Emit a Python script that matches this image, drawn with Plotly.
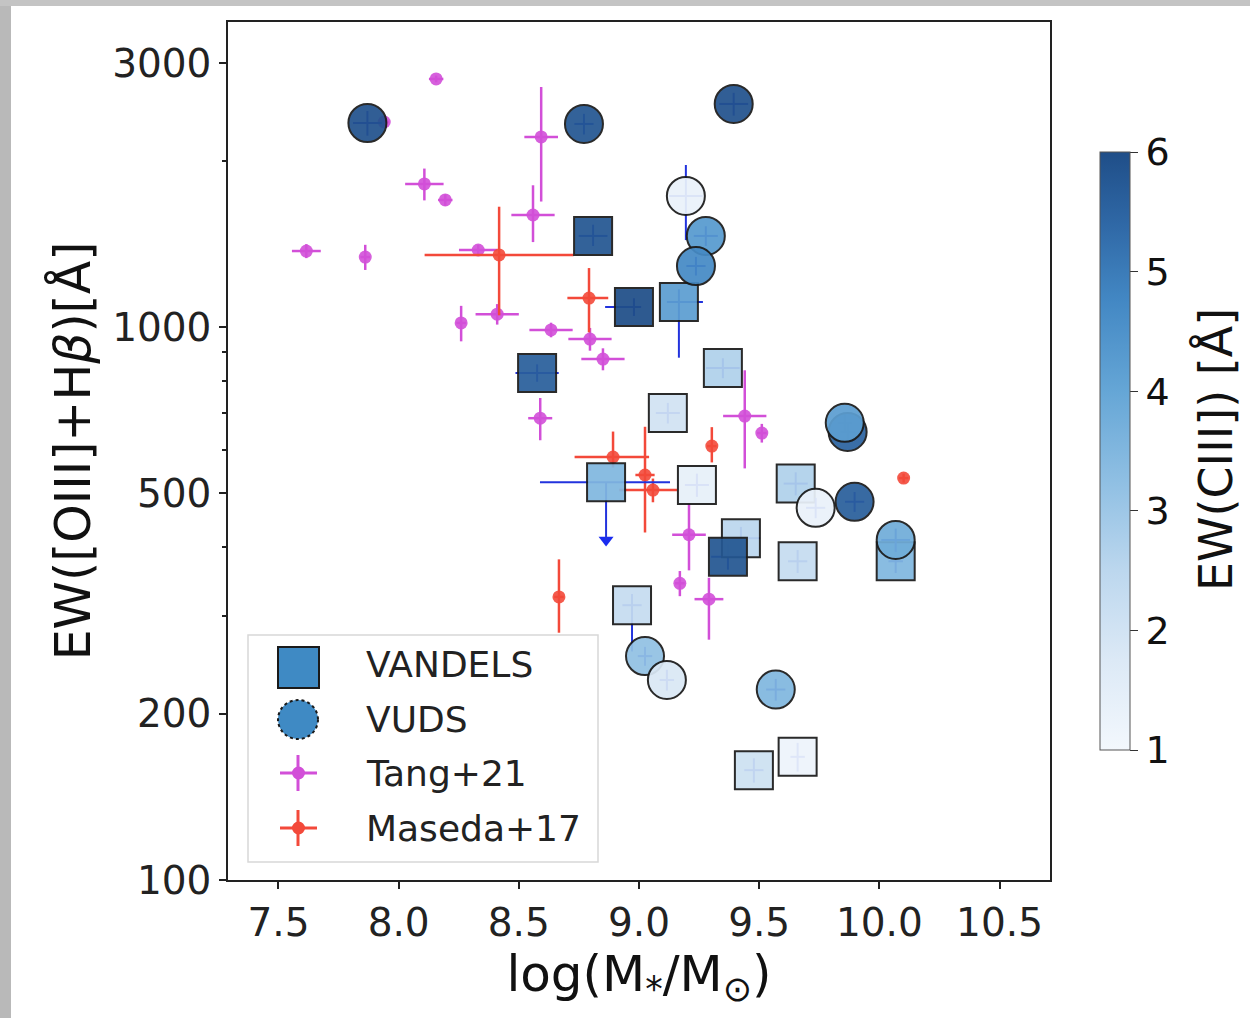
import plotly.graph_objects as go

# ---- VANDELS (squares) ----
van_mass = [8.809, 8.979, 9.166, 8.576, 9.349, 9.120, 8.863, 9.241, 9.652, 9.424, 9.370, 9.660, 10.068, 8.971, 9.478, 9.660]
van_ew = [1461, 1087, 1110, 826, 843, 699, 524, 518, 521, 415, 384, 377, 377, 314, 158, 167]
van_ciii = [5.8, 6.0, 4.2, 5.6, 2.7, 2.0, 3.5, 1.4, 2.7, 2.5, 5.8, 2.3, 3.5, 2.3, 2.1, 1.2]
van_xerr_lo = [0.06, 0.12, 0.05, 0.09, 0.07, 0.05, 0.275, 0.05, 0.05, 0.04, 0.07, 0.04, 0.03, 0.04, 0.04, 0.03]
van_xerr_hi = [0.06, 0.03, 0.10, 0.09, 0.07, 0.05, 0.266, 0.05, 0.05, 0.08, 0.07, 0.04, 0.03, 0.04, 0.04, 0.03]
van_yerr_lo = [60, 40, 230, 30, 35, 30, 112, 25, 25, 20, 20, 18, 18, 55, 8, 10]
van_yerr_hi = [70, 40, 60, 30, 35, 30, 0, 25, 25, 20, 20, 18, 18, 15, 8, 10]
# upper limit on one VANDELS object
lim_mass = [8.863]
lim_ew = [412]

# ---- VUDS (circles) ----
vuds_mass = [7.870, 8.771, 9.394, 9.195, 9.278, 9.237, 9.868, 9.856, 9.735, 9.897, 10.068, 9.025, 9.116, 9.569]
vuds_ew = [2338, 2329, 2531, 1726, 1461, 1289, 646, 671, 471, 483, 412, 254, 230, 221]
vuds_ciii = [5.9, 5.8, 5.9, 1.3, 4.3, 4.7, 5.5, 4.2, 1.3, 5.6, 3.8, 3.2, 1.8, 3.5]
vuds_xerr = [0.06, 0.04, 0.06, 0.07, 0.05, 0.04, 0.03, 0.03, 0.04, 0.04, 0.06, 0.03, 0.03, 0.04]
vuds_yerr_hi = [120, 100, 120, 237, 60, 50, 25, 25, 20, 20, 20, 10, 10, 10]
vuds_yerr_lo = [120, 100, 120, 290, 60, 50, 25, 25, 20, 20, 20, 10, 10, 10]

# ---- Tang+21 ----
tang_mass = [8.156, 7.940, 8.593, 8.107, 8.194, 8.559, 7.616, 7.861, 8.331, 8.260, 8.410, 8.634, 8.796, 8.850, 8.589, 9.440, 9.511, 9.208, 9.170, 9.291]
tang_ew = [2809, 2348, 2206, 1814, 1697, 1594, 1372, 1338, 1378, 1017, 1055, 988, 951, 875, 684, 690, 643, 421, 344, 322]
tang_xerr = [0.03, 0.02, 0.07, 0.08, 0.03, 0.09, 0.06, 0.02, 0.08, 0.02, 0.09, 0.09, 0.09, 0.09, 0.05, 0.09, 0.02, 0.07, 0.02, 0.06]
tang_yerr_hi = [40, 40, 510, 120, 40, 210, 40, 70, 30, 75, 45, 30, 45, 40, 60, 145, 25, 58, 18, 30]
tang_yerr_lo = [40, 40, 520, 120, 40, 170, 40, 70, 30, 75, 45, 30, 45, 40, 60, 135, 25, 58, 18, 50]

# ---- Maseda+17 ----
mas_mass = [8.418, 8.792, 8.892, 9.025, 9.058, 9.303, 10.101, 8.667]
mas_ew = [1350, 1128, 582, 540, 507, 609, 533, 325]
mas_xerr_lo = [0.31, 0.09, 0.16, 0.04, 0.14, 0.02, 0.02, 0.02]
mas_xerr_hi = [0.31, 0.08, 0.15, 0.04, 0.10, 0.02, 0.02, 0.02]
mas_yerr_hi = [300, 150, 65, 120, 25, 50, 10, 55]
mas_yerr_lo = [300, 150, 25, 115, 25, 40, 10, 45]

# tick labels
x_ticks = [7.5, 8.0, 8.5, 9.0, 9.5, 10.0, 10.5]
y_ticks = [100, 200, 500, 1000, 3000]
y_minor = [300, 400, 600, 700, 800, 900, 2000]
cb_ticks = [1, 2, 3, 4, 5, 6]

# Blues-like scale
blues = [
    [0.0, "#f3f8fd"], [0.15, "#dce9f6"], [0.3, "#bcd7ee"], [0.45, "#8fbfe3"],
    [0.6, "#65a6d6"], [0.75, "#4388c4"], [0.88, "#2f68a6"], [1.0, "#1f4e88"],
]

TANG_C = "#d24fd8"
MAS_C = "#f3493a"
EDGE = "#1a1a1a"
FONT = "DejaVu Sans"

fig = go.Figure()

fig.add_trace(go.Scatter(
    x=tang_mass, y=tang_ew, mode="markers", name="Tang+21", showlegend=False,
    marker=dict(size=13, color=TANG_C, opacity=0.9, line=dict(width=0)),
    error_x=dict(type="data", array=tang_xerr, color=TANG_C, thickness=2.5, width=0),
    error_y=dict(type="data", array=tang_yerr_hi, arrayminus=tang_yerr_lo, color=TANG_C, thickness=2.5, width=0),
))

fig.add_trace(go.Scatter(
    x=mas_mass, y=mas_ew, mode="markers", name="Maseda+17", showlegend=False,
    marker=dict(size=13, color=MAS_C, opacity=0.9, line=dict(width=0)),
    error_x=dict(type="data", array=mas_xerr_hi, arrayminus=mas_xerr_lo, color=MAS_C, thickness=2.5, width=0),
    error_y=dict(type="data", array=mas_yerr_hi, arrayminus=mas_yerr_lo, color=MAS_C, thickness=2.5, width=0),
))

fig.add_trace(go.Scatter(
    x=lim_mass, y=lim_ew, mode="markers", showlegend=False, hoverinfo="skip",
    marker=dict(symbol="triangle-down", size=13, color="#1a2cf0", line=dict(width=0)),
))

fig.add_trace(go.Scatter(
    x=van_mass, y=van_ew, mode="markers", name="VANDELS", showlegend=False,
    marker=dict(symbol="square", size=38, color=van_ciii, colorscale=blues, cmin=1, cmax=6,
                line=dict(color=EDGE, width=2), opacity=0.93,
                colorbar=dict(
                    x=(1100 - 228) / 822, xanchor="left", y=0.5, yanchor="middle",
                    len=(750 - 152) / 858, lenmode="fraction", thickness=30,
                    xpad=0, ypad=0,
                    outlinecolor="#555555", outlinewidth=1,
                    tickvals=cb_ticks, ticks="outside", ticklen=8, tickcolor="#333",
                    tickfont=dict(size=38, family=FONT, color="#111"),
                )),
    error_x=dict(type="data", array=van_xerr_hi, arrayminus=van_xerr_lo, color="#2233dd", thickness=2, width=0),
    error_y=dict(type="data", array=van_yerr_hi, arrayminus=van_yerr_lo, color="#2233dd", thickness=2, width=0),
))

fig.add_trace(go.Scatter(
    x=vuds_mass, y=vuds_ew, mode="markers", name="VUDS", showlegend=False,
    marker=dict(symbol="circle", size=38, color=vuds_ciii, colorscale=blues, cmin=1, cmax=6,
                line=dict(color=EDGE, width=2), opacity=0.93, showscale=False),
    error_x=dict(type="data", array=vuds_xerr, color="#2233dd", thickness=2, width=0),
    error_y=dict(type="data", array=vuds_yerr_hi, arrayminus=vuds_yerr_lo, color="#2233dd", thickness=2, width=0),
))


# pixel -> paper helpers for the legend box and colorbar title
def px(x):
    return (x - 228) / 822


def py(y):
    return (880 - y) / 858


shapes = []
annotations = []
# legend frame
shapes.append(dict(type="rect", xref="paper", yref="paper", x0=px(248), x1=px(598), y0=py(862), y1=py(635),
                   line=dict(color="#d8d8d8", width=1.5), fillcolor="rgba(255,255,255,0.85)", layer="above"))
# VANDELS key
shapes.append(dict(type="rect", xref="paper", yref="paper", x0=px(278), x1=px(319), y0=py(688), y1=py(647),
                   line=dict(color=EDGE, width=2), fillcolor="#3f8ac4", layer="above"))
# VUDS key
shapes.append(dict(type="circle", xref="paper", yref="paper", x0=px(278), x1=px(318), y0=py(739), y1=py(700),
                   line=dict(color=EDGE, width=2, dash="dot"), fillcolor="#3f8ac4", layer="above"))
# Tang+21 and Maseda+17 keys
for cy, col in [(773, TANG_C), (828, MAS_C)]:
    shapes.append(dict(type="line", xref="paper", yref="paper", x0=px(280), x1=px(317), y0=py(cy), y1=py(cy),
                       line=dict(color=col, width=3), layer="above"))
    shapes.append(dict(type="line", xref="paper", yref="paper", x0=px(298), x1=px(298), y0=py(cy - 18), y1=py(cy + 18),
                       line=dict(color=col, width=3), layer="above"))
    shapes.append(dict(type="circle", xref="paper", yref="paper", x0=px(292), x1=px(305), y0=py(cy + 6.5), y1=py(cy - 6.5),
                       line=dict(color=col, width=0), fillcolor=col, layer="above"))
for cy, txt in [(664, "VANDELS"), (719, "VUDS"), (773, "Tang+21"), (828, "Maseda+17")]:
    annotations.append(dict(xref="paper", yref="paper", x=px(364), y=py(cy), text=txt, showarrow=False,
                            xanchor="left", yanchor="middle",
                            font=dict(size=36, family=FONT, color="#222")))

# colorbar title
annotations.append(dict(xref="paper", yref="paper", x=px(1216), y=py(450), text="EW(CIII]) [Å]",
                        showarrow=False, textangle=-90, xanchor="center", yanchor="middle",
                        font=dict(size=46, family=FONT, color="#111")))

# grey frame along the left and top edges
shapes.append(dict(type="rect", xref="paper", yref="paper", x0=px(0), x1=px(11), y0=py(1018), y1=py(0),
                   line=dict(width=0), fillcolor="#b9b9b9", layer="below"))
shapes.append(dict(type="rect", xref="paper", yref="paper", x0=px(0), x1=px(1250), y0=py(6), y1=py(0),
                   line=dict(width=0), fillcolor="#c4c4c4", layer="below"))

axis_font = dict(size=39, family=FONT, color="#222")

fig.update_layout(
    width=1250, height=1018,
    margin=dict(l=228, r=200, t=22, b=138),
    paper_bgcolor="white", plot_bgcolor="white",
    showlegend=False,
    shapes=shapes, annotations=annotations,
    xaxis=dict(
        range=[7.29, 10.71], tickvals=x_ticks, ticktext=[f"{v:.1f}" for v in x_ticks],
        ticks="outside", ticklen=7, tickwidth=1.5, tickcolor="#222",
        showline=True, linecolor="#222", linewidth=1.5, mirror=True,
        showgrid=False, zeroline=False, tickfont=axis_font,
        title=dict(text="log(M<sub>*</sub>/M<sub>⊙</sub>)", standoff=6,
                   font=dict(size=50, family=FONT, color="#111")),
    ),
    yaxis=dict(
        type="log", range=[2, 3.5515], tickvals=y_ticks, ticktext=[str(v) for v in y_ticks],
        ticks="outside", ticklen=7, tickwidth=1.5, tickcolor="#222",
        minor=dict(tickvals=y_minor, ticks="outside", ticklen=4, tickcolor="#222", showgrid=False),
        showline=True, linecolor="#222", linewidth=1.5, mirror=True,
        showgrid=False, zeroline=False, tickfont=axis_font,
        title=dict(text="EW([OIII]+H<i>β</i>)[Å]", standoff=6,
                   font=dict(size=49, family=FONT, color="#111")),
    ),
)

fig.write_html("out.html")
